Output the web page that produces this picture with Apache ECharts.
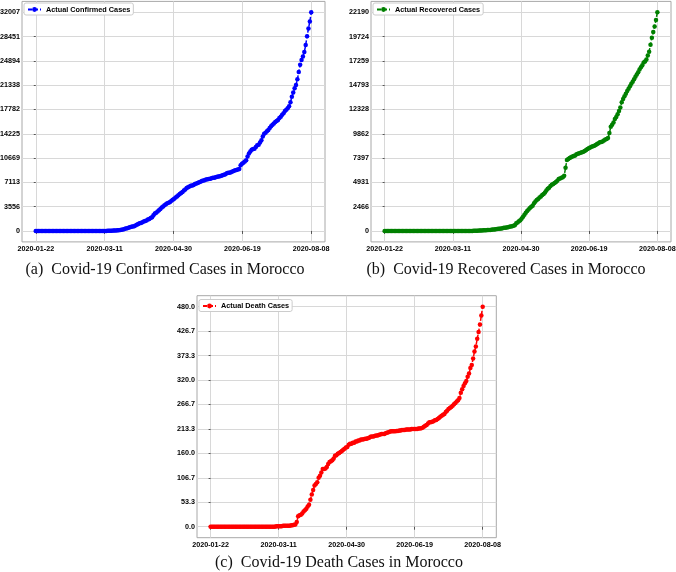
<!DOCTYPE html>
<html>
<head>
<meta charset="utf-8">
<title>Covid-19 Morocco</title>
<script src="https://cdn.jsdelivr.net/npm/echarts@6/dist/echarts.min.js"></script>
<style>
  html, body { margin: 0; padding: 0; background: #ffffff; }
  #chart { width: 676px; height: 572px; }
</style>
</head>
<body>
<div id="chart"></div>
<script>
// daily cumulative values, 2020-01-22 .. 2020-08-08 (200 days)
const confirmed = [
  0, 0, 0, 0, 0, 0, 0, 0, 0, 0,
  0, 0, 0, 0, 0, 0, 0, 0, 0, 0,
  0, 0, 0, 0, 0, 0, 0, 0, 0, 0,
  0, 0, 0, 0, 0, 0, 0, 0, 0, 0,
  1, 1, 1, 2, 2, 2, 2, 2, 3,
  5, 6, 7, 17, 28, 37, 44, 54, 63, 77,
  96, 115, 143, 170, 225, 275, 345, 402, 479, 556, 617,
  654, 708, 791, 919, 1021, 1120, 1184, 1275, 1374, 1448,
  1545, 1661, 1763, 1888, 2024, 2283, 2564, 2685, 2855, 3046,
  3209, 3446, 3568, 3758, 3897, 4065, 4120, 4252, 4423, 4569,
  4729, 4903, 5053, 5219, 5408, 5548, 5711, 5910, 6063, 6281,
  6418, 6512, 6607, 6652, 6741, 6870, 6952, 7023, 7133, 7211,
  7332, 7406, 7433, 7532, 7577, 7601, 7643, 7714, 7780, 7807, 7866,
  7922, 7959, 8003, 8071, 8151, 8224, 8302, 8437, 8508, 8537,
  8610, 8692, 8793, 8885, 8931, 8997, 9074, 9613, 9839, 9977,
  10172, 10344, 10907, 11338, 11633, 11877, 11986, 12052, 12290, 12533,
  12636, 12969, 13288, 13822, 14215, 14379, 14607, 14771, 15079, 15328,
  15542, 15745, 15936, 16097, 16262, 16545, 16726, 17015, 17236, 17562,
  17742, 17962, 18264, 18834, 19645, 20278, 20887, 21387, 22213, 23259, 24322,
  25015, 25537, 26196, 27217, 28500, 29644, 30662, 32007
]

const recovered = [
  0, 0, 0, 0, 0, 0, 0, 0, 0, 0,
  0, 0, 0, 0, 0, 0, 0, 0, 0, 0,
  0, 0, 0, 0, 0, 0, 0, 0, 0, 0,
  0, 0, 0, 0, 0, 0, 0, 0, 0, 0,
  0, 0, 0, 0, 0, 0, 0, 0, 0,
  0, 0, 1, 1, 1, 1, 1, 2, 2, 3,
  3, 3, 3, 5, 6, 8, 11, 13, 15, 24, 36,
  42, 58, 66, 76, 81, 93, 98, 109, 128, 141,
  161, 177, 203, 217, 229, 249, 281, 314, 327, 350,
  378, 417, 456, 472, 532, 593, 778, 870, 984, 1083,
  1256, 1438, 1653, 1838, 2036, 2176, 2324, 2461, 2554, 2811,
  2993, 3131, 3233, 3401, 3487, 3660, 3758, 3901, 4098, 4280,
  4377, 4573, 4703, 4774, 4881, 4978, 5088, 5271, 5316, 5401, 5459,
  5594, 6410, 7195, 7315, 7408, 7493, 7565, 7618, 7667, 7781,
  7828, 7888, 7936, 7993, 8041, 8117, 8223, 8327, 8407, 8479,
  8546, 8607, 8656, 8723, 8829, 8901, 8992, 9026, 9090, 9183,
  9290, 9345, 9426, 9934, 10565, 10768, 11003, 11370, 11565, 11855,
  12180, 12530, 13070, 13400, 13680, 13930, 14200, 14440, 14700, 14930,
  15150, 15400, 15640, 15870, 16100, 16380, 16620, 16820, 17100, 17200, 17400,
  17800, 18200, 18900, 19600, 20200, 20750, 21400, 22190
]

const deaths = [
  0, 0, 0, 0, 0, 0, 0, 0, 0, 0,
  0, 0, 0, 0, 0, 0, 0, 0, 0, 0,
  0, 0, 0, 0, 0, 0, 0, 0, 0, 0,
  0, 0, 0, 0, 0, 0, 0, 0, 0, 0,
  0, 0, 0, 0, 0, 0, 0, 0, 1,
  1, 1, 1, 1, 2, 2, 2, 2, 2, 2,
  3, 3, 4, 5, 10, 23, 25, 26, 29, 33, 36,
  39, 44, 48, 59, 70, 80, 90, 93, 97, 107,
  111, 118, 126, 126, 127, 130, 137, 141, 143, 145,
  149, 155, 156, 159, 161, 163, 165, 168, 170, 173,
  174, 179, 181, 181, 183, 183, 186, 186, 188, 188,
  190, 190, 191, 192, 192, 193, 194, 196, 197, 197,
  198, 199, 199, 200, 201, 202, 202, 202, 204, 205, 206,
  207, 208, 208, 208, 208, 209, 209, 210, 210, 211,
  211, 211, 212, 212, 212, 212, 213, 213, 213, 213,
  213, 214, 214, 215, 216, 218, 220, 222, 225, 228,
  228, 229, 230, 232, 233, 235, 237, 240, 242, 244,
  246, 250, 253, 257, 259, 261, 264, 267, 270, 273,
  276, 281, 292, 300, 307, 313, 318, 327, 334, 346, 353,
  367, 382, 393, 410, 425, 441, 461, 480
]

const xTickPos = [0, 49.75, 99.5, 149.25, 199]
const xTickLabels = ['2020-01-22', '2020-03-11', '2020-04-30', '2020-06-19', '2020-08-08']
const yTicksConfirmed = [0, 3556, 7113, 10669, 14225, 17782, 21338, 24894, 28451, 32007]
const yTicksRecovered = [0, 2466, 4931, 7397, 9862, 12328, 14793, 17259, 19724, 22190]
const yTicksDeaths = [0, 53.3, 106.7, 160.0, 213.3, 266.7, 320.0, 373.3, 426.7, 480.0]

const tickFont = "'Liberation Sans', Arial, sans-serif"
const captionFont = "'Liberation Serif', 'DejaVu Serif', serif"
const splitColor = '#d8d8d8'

const chart = echarts.init(document.getElementById('chart'), null, { renderer: 'canvas' })

const makeX = (gridIndex) => ({
  type: 'value',
  gridIndex: gridIndex,
  min: -9.95,
  max: 208.95,
  axisLine: { show: false },
  axisTick: { show: true, customValues: xTickPos, length: 3, lineStyle: { color: '#555' } },
  axisLabel: {
    customValues: xTickPos,
    margin: 4,
    color: '#000',
    fontFamily: tickFont,
    fontWeight: 'bold',
    fontSize: 7.2,
    formatter: (v) => {
      const i = xTickPos.findIndex(p => Math.abs(p - v) < 0.01)
      return i < 0 ? '' : xTickLabels[i]
    }
  },
  splitLine: { show: true, lineStyle: { color: splitColor, width: 1 } }
})

const makeY = (gridIndex, ticks, digits) => {
  const top = ticks[ticks.length - 1]
  return {
    type: 'value',
    gridIndex: gridIndex,
    min: -0.05 * top,
    max: 1.05 * top,
    axisLine: { show: false },
    axisTick: { show: true, customValues: ticks, length: 2, lineStyle: { color: '#555' } },
    axisLabel: {
      customValues: ticks,
      margin: 2,
      color: '#000',
      fontFamily: tickFont,
      fontWeight: 'bold',
      fontSize: 7.2,
      formatter: (v) => v.toFixed(digits)
    },
    splitLine: { show: true, lineStyle: { color: splitColor, width: 1 } }
  }
}

const makeSeries = (name, values, color, idx) => ({
  name: name,
  type: 'line',
  xAxisIndex: idx,
  yAxisIndex: idx,
  data: values.map((v, i) => [i, v]),
  symbol: 'circle',
  symbolSize: 4.5,
  itemStyle: { color: color },
  lineStyle: { color: color, width: 1.5, type: [4, 2] },
  animation: false,
  silent: true
})

const makeLegend = (name, left, top) => ({
  data: [name],
  left: left,
  top: top,
  orient: 'vertical',
  selectedMode: false,
  backgroundColor: '#ffffff',
  borderColor: '#cccccc',
  borderWidth: 1,
  borderRadius: 2,
  padding: [3, 3, 2, 3],
  itemWidth: 13,
  itemHeight: 6,
  textStyle: { color: '#000', fontFamily: tickFont, fontWeight: 'bold', fontSize: 7.3 }
})

const gridBase = { show: true, borderColor: '#a8a8a8', borderWidth: 1, backgroundColor: 'transparent', outerBoundsMode: 'none', containLabel: false }

const option = {
  animation: false,
  grid: [
    Object.assign({ left: 22, top: 1.4, width: 303, height: 240.5 }, gridBase),
    Object.assign({ left: 371, top: 1.4, width: 300, height: 240.5 }, gridBase),
    Object.assign({ left: 197, top: 295.7, width: 299.3, height: 242 }, gridBase)
  ],
  xAxis: [makeX(0), makeX(1), makeX(2)],
  yAxis: [
    makeY(0, yTicksConfirmed, 0),
    makeY(1, yTicksRecovered, 0),
    makeY(2, yTicksDeaths, 1)
  ],
  legend: [
    makeLegend('Actual Confirmed Cases', 24, 3),
    makeLegend('Actual Recovered Cases', 373, 3),
    makeLegend('Actual Death Cases', 199, 299.5)
  ],
  series: [
    makeSeries('Actual Confirmed Cases', confirmed, '#0000ff', 0),
    makeSeries('Actual Recovered Cases', recovered, '#008000', 1),
    makeSeries('Actual Death Cases', deaths, '#ff0000', 2)
  ],
  // captions under each panel
  graphic: [
    { type: 'text', x: 165, y: 261.5, style: { text: '(a)  Covid-19 Confirmed Cases in Morocco', font: '16px ' + captionFont, fill: '#111', align: 'center', verticalAlign: 'top' } },
    { type: 'text', x: 506, y: 261.5, style: { text: '(b)  Covid-19 Recovered Cases in Morocco', font: '16px ' + captionFont, fill: '#111', align: 'center', verticalAlign: 'top' } },
    { type: 'text', x: 339, y: 555, style: { text: '(c)  Covid-19 Death Cases in Morocco', font: '16px ' + captionFont, fill: '#111', align: 'center', verticalAlign: 'top' } }
  ]
}

chart.setOption(option)
</script>
</body>
</html>
